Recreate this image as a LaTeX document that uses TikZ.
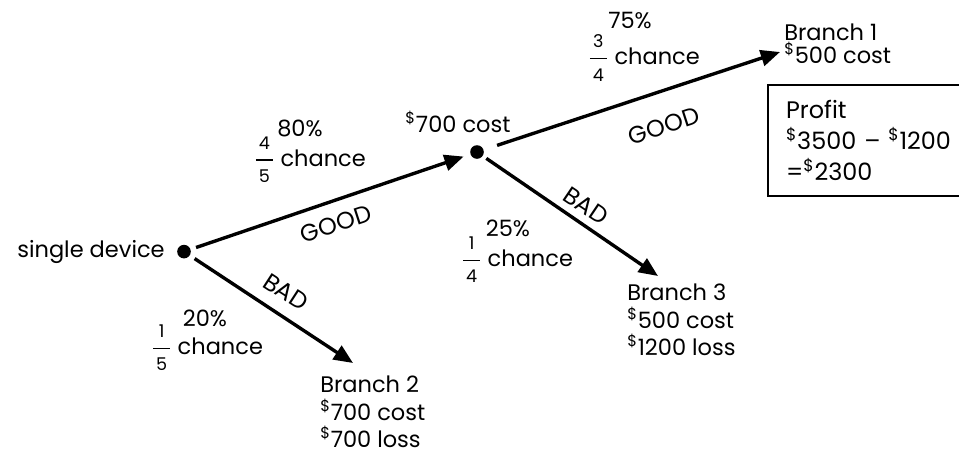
\documentclass[tikz,border=0pt]{standalone}
\usepackage{amsmath}
\usepackage{fontspec}
\setmainfont{Poppins}
\usepackage{tikz}
\usetikzlibrary{positioning,arrows.meta}
\newcommand{\dlr}{\textsuperscript{\$}}
\newcommand{\frc}[2]{$\genfrac{}{}{0.9pt}{0}{\text{\fontsize{12.5}{12}\selectfont\,#1\,}}{\text{\fontsize{12.5}{12}\selectfont\,#2\,}}$}

\begin{document}
\begin{tikzpicture}[
  dot/.style={circle, fill=black, inner sep=0pt, minimum size=0.34cm},
  lbl/.style={inner sep=0pt, font=\fontsize{16}{19}\selectfont},
  block/.style={inner sep=0pt, anchor=north west, align=left, font=\fontsize{16}{19.5}\selectfont},
  tag/.style={inner sep=0pt, font=\fontsize{17}{18}\selectfont},
  profitbox/.style={draw, line width=1.6pt, anchor=north west, align=left,
             text width=5.2cm, inner xsep=0.45cm, minimum height=2.78cm,
             font=\fontsize{17}{22}\selectfont},
  arr/.style={-{Triangle[length=4.8mm,width=4mm]}, line width=2.4pt},
]
\useasboundingbox (0,0) rectangle (23.975,-11.45);

\node[dot] (dev) at (4.6,-6.29) {};
\node[dot] (mid) at (11.925,-3.8) {};
\coordinate (t1) at (19.5,-1.3);
\coordinate (t2) at (8.825,-9.075);
\coordinate (t3) at (16.45,-6.9);

\node[lbl, left=0.3cm of dev] (devname) {single device};
\node[lbl] (midcost) at (11.45,-3.05) {\dlr700 cost};

\node[lbl] (p80) at (7.5,-3.2) {80\%};
\node[lbl] (c80) at (7.75,-4.0) {\frc{4}{5} chance};
\node[tag, rotate=18] (good1) at (8.4,-5.6) {GOOD};
\node[tag, rotate=-33] (bad1) at (7.15,-7.3) {BAD};
\node[lbl] (p20) at (5.125,-7.95) {20\%};
\node[lbl] (c20) at (5.18,-8.7) {\frc{1}{5} chance};

\node[lbl] (p75) at (15.75,-0.5) {75\%};
\node[lbl] (c75) at (16.1,-1.45) {\frc{3}{4} chance};
\node[tag, rotate=18] (good2) at (16.6,-3.15) {GOOD};
\node[tag, rotate=-34] (bad2) at (14.65,-5.15) {BAD};
\node[lbl] (p25) at (12.7,-5.7) {25\%};
\node[lbl] (c25) at (12.93,-6.5) {\frc{1}{4} chance};

\node[block, font=\fontsize{16}{16}\selectfont] (b1) at (19.6,-0.6) {Branch 1\\ \dlr500 cost};
\node[block] (b2) at (8.0,-9.4) {Branch 2\\ \dlr700 cost\\ \dlr700 loss};
\node[block] (b3) at (15.675,-7.1) {Branch 3\\ \dlr500 cost\\ \dlr1200 loss};
\node[profitbox] (profit) at (19.175,-2.1) {Profit\\ \dlr3500 -- \dlr1200\\ =\dlr2300};

\draw[arr, shorten <=4pt, shorten >=5pt] (dev) -- (mid);
\draw[arr, shorten <=4pt] (dev) -- (t2);
\draw[arr, shorten <=10pt] (mid) -- (t1);
\draw[arr, shorten <=3pt] (mid) -- (t3);
\end{tikzpicture}
\end{document}
